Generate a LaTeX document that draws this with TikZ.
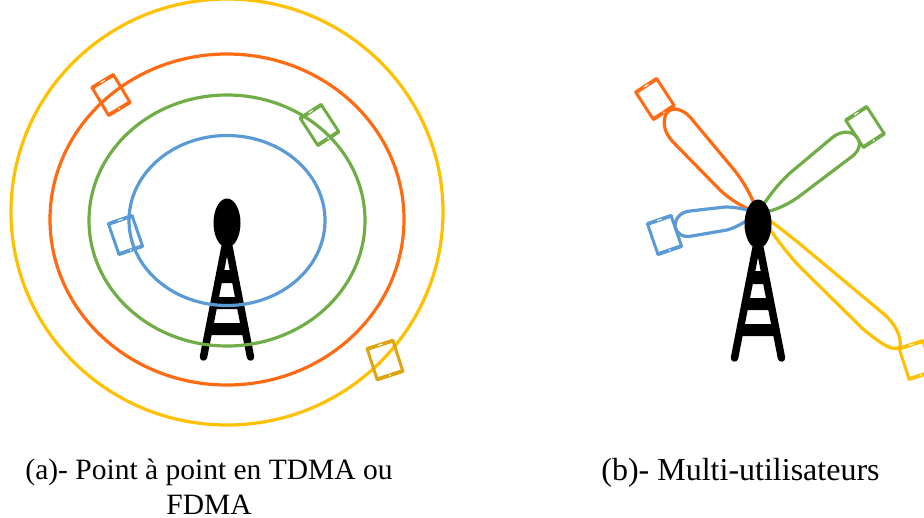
\documentclass[tikz,border=0pt]{standalone}
\usepackage{fontspec}
\setmainfont{Liberation Serif}
\definecolor{ringblue}{HTML}{5B9BD5}
\definecolor{ringgreen}{HTML}{70AD47}
\definecolor{ringorange}{HTML}{FF6A13}
\definecolor{ringyellow}{HTML}{FFC000}
\definecolor{darkyellow}{HTML}{DDA50F}
\tikzset{
  ring/.style={line width=3.2pt},
  lobe/.style={line width=3.2pt,line join=round},
  tablet/.style={rectangle,draw,line width=3pt,rounded corners=1.5pt,inner sep=0pt,outer sep=0pt,minimum width=#1,minimum height=32pt},
  tablet/.default=24pt,
  caption/.style={font=\fontsize{29.5pt}{35pt}\selectfont,align=center,inner sep=0pt,text depth=0pt},
  tower/.pic={
    \fill (0,0) ellipse (13.5 and 24.5);
    \draw[line width=7.5pt,line cap=round] (-2,24) -- (-23.5,134);
    \draw[line width=7.5pt,line cap=round] (2,24) -- (23.5,134);
    \fill (-6.5,47) -- (6.5,47) -- (9,60) -- (-9,60) -- cycle;
    \fill (-11.8,74) -- (11.8,74) -- (14.1,86) -- (-14.1,86) -- cycle;
    \fill (-16.9,100) -- (16.9,100) -- (19.2,112) -- (-19.2,112) -- cycle;
  }
}
\newcommand{\tabletat}[6][25pt]{%
  \node[tablet=#1,draw=#3,rotate=#6] (#2) at (#4,#5) {};
  \draw[#3,line width=3.8pt,line cap=round] (#2.south west) -- (#2.south east);
  \draw[#3,line width=3.8pt,line cap=round] (#2.north west) -- (#2.north east);
  \fill[white] (#2.south) circle (1);
  \node[fill=white,inner sep=0pt,minimum width=5pt,minimum height=1pt,rotate=#6] (#2s) at (#2.north) {};
}
\begin{document}
\begin{tikzpicture}[x=1pt,y=-1pt]
\useasboundingbox (0,0) rectangle (924,517);
% (a)
\pic (towerA) at (227,223) {tower};
\draw[ring,ringblue] (227,220.5) ellipse (98 and 85);
\draw[ring,ringgreen] (227,220.5) ellipse (138 and 125.5);
\draw[ring,ringorange] (227,219.5) ellipse (177 and 165.5);
\draw[ring,ringyellow] (227,212) ellipse (216 and 213);
\tabletat{tabOa}{ringorange}{111}{95}{31}
\tabletat{tabGa}{ringgreen}{319.5}{125}{33}
\tabletat{tabBa}{ringblue}{125.5}{235}{19}
\tabletat[27pt]{tabYa}{darkyellow}{385}{360}{18}
% (b)
\coordinate (ant) at (758,213);
\tabletat{tabOb}{ringorange}{655}{99}{33}
\tabletat{tabGb}{ringgreen}{865}{127}{33}
\tabletat{tabBb}{ringblue}{664.5}{235}{19}
\tabletat{tabYb}{ringyellow}{916}{360}{18}
\draw[lobe,ringorange] (ant) .. controls (750,192) and (742,180) .. (735,171) -- (690,117) .. controls (682,108) and (668,105) .. (665,117) .. controls (662,128) and (668,137) .. (675,144) -- (720,190) .. controls (733,202) and (745,208) .. (ant);
\draw[lobe,ringgreen] (ant) .. controls (768,197) and (778,184) .. (790,173) -- (833,137) .. controls (842,130) and (855,130) .. (859,141) .. controls (861,148) and (856,154) .. (850,158) -- (797,198) .. controls (785,206) and (772,212) .. (ant);
\draw[lobe,ringblue] (ant) .. controls (748,210) and (738,207) .. (725,207) -- (690,211) .. controls (680,212) and (675,219) .. (675,226) .. controls (676,233) and (682,238) .. (692,236) -- (727,230) .. controls (738,227) and (748,220) .. (ant);
\draw[lobe,ringyellow] (ant) .. controls (770,220) and (785,232) .. (800,244) -- (885,315) .. controls (895,324) and (902,337) .. (900,347) .. controls (893,351) and (885,347) .. (863,329) -- (803,270) .. controls (785,252) and (772,232) .. (ant);
\pic (towerB) at (758,224) {tower};
% captions
\node[caption,anchor=south] (capA) at (209,515) {(a)- Point à point en TDMA ou\\FDMA};
\node[caption,font=\fontsize{32pt}{33pt}\selectfont,anchor=south] (capB) at (740.5,481) {(b)- Multi-utilisateurs};
\end{tikzpicture}
\end{document}
